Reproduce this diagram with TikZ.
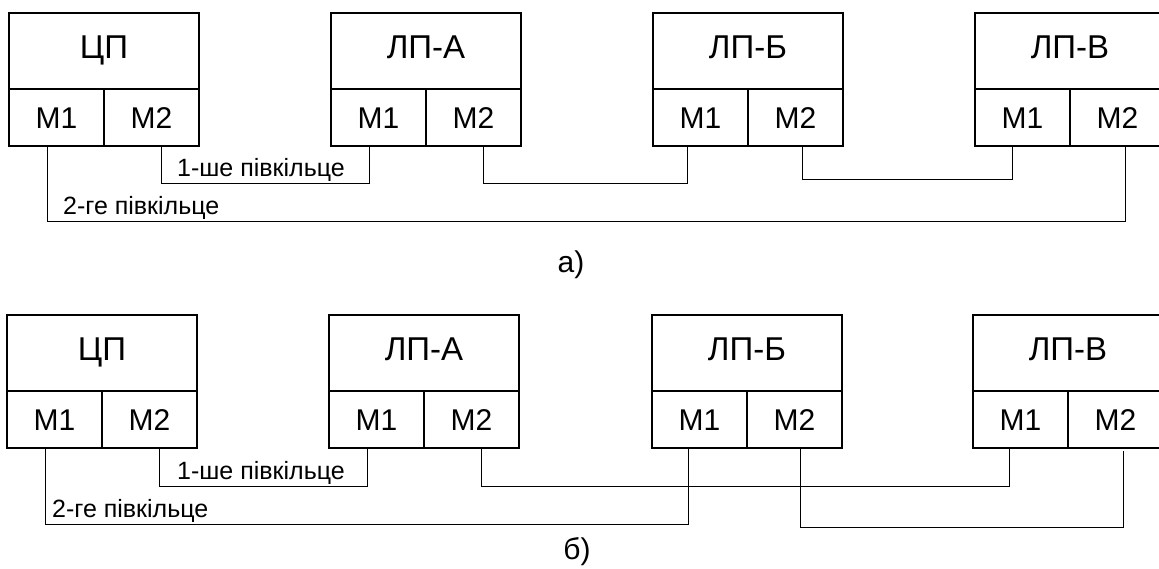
\documentclass[tikz,border=0pt]{standalone}
\usepackage{fontspec}
\setmainfont{Liberation Sans}
\begin{document}
\begin{tikzpicture}[x=1pt,y=-1pt,
  titlebox/.style={draw,line width=1.2pt,minimum width=190pt,minimum height=76pt,
    inner sep=0pt,outer sep=0pt,anchor=north west,text height=23.6pt,text depth=8pt,
    font=\fontsize{33}{35}\selectfont},
  portbox/.style={draw,line width=1.2pt,minimum width=95pt,minimum height=57pt,
    inner sep=0pt,outer sep=0pt,text height=21.5pt,text depth=0pt,
    font=\fontsize{30}{32}\selectfont},
  link/.style={line width=1pt},
  lbl/.style={font=\fontsize{25}{27}\selectfont,inner sep=0pt,anchor=west,
    text height=18pt,text depth=0pt},
  captext/.style={font=\fontsize{30}{32}\selectfont,inner sep=0pt}]
\useasboundingbox (0,0) rectangle (1159,568);
\clip (0,0) rectangle (1159,568);

% one unit: title cell with two port cells below it
\newcommand{\unitbox}[4]{%
  \node[titlebox] (#1) at (#2,#3) {#4};
  \node[portbox,anchor=north east] (#1m1) at (#1.south) {M1};
  \node[portbox,anchor=north west] (#1m2) at (#1.south) {M2};
}

% ---------- a) ----------
\unitbox{cpa}{9}{13}{ЦП}
\unitbox{aa}{331}{13}{ЛП-А}
\unitbox{ba}{653}{13}{ЛП-Б}
\unitbox{va}{975}{13}{ЛП-В}

\draw[link] ([xshift=-9.5pt]cpam1.south) -- ++(0,75) -| ([xshift=8pt]vam2.south);
\draw[link] ([xshift=9.5pt]cpam2.south) -- ++(0,37) -| ([xshift=-9.5pt]aam1.south);
\draw[link] ([xshift=10pt]aam2.south) -- ++(0,37) -| ([xshift=-13pt]bam1.south);
\draw[link] ([xshift=7pt]bam2.south) -- ++(0,33) -| ([xshift=-10pt]vam1.south);

\node[lbl] (la1) at (177,167) {1-ше півкільце};
\node[lbl] (la2) at (63,205) {2-ге півкільце};
\node[captext] (capa) at (571,265) {а)};

% ---------- б) ----------
\unitbox{cpb}{7}{315}{ЦП}
\unitbox{ab}{329}{315}{ЛП-А}
\unitbox{bb}{652}{315}{ЛП-Б}
\unitbox{vb}{973}{315}{ЛП-В}

\draw[link] ([xshift=9.5pt]cpbm2.south) -- ++(0,38) -| ([xshift=-9.5pt]abm1.south);
\draw[link] ([xshift=-9.5pt]cpbm1.south) -- ++(0,76) -| ([xshift=-11pt]bbm1.south);
\draw[link] ([xshift=10pt]abm2.south) -- ++(0,38) -| ([xshift=-11pt]vbm1.south);
\draw[link] ([xshift=6pt]bbm2.south) -- ++(0,79) -| ([xshift=8pt,yshift=-3pt]vbm2.south);

\node[lbl] (lb1) at (177,470) {1-ше півкільце};
\node[lbl] (lb2) at (52,508) {2-ге півкільце};
\node[captext] (capb) at (577,552) {б)};
\end{tikzpicture}
\end{document}
